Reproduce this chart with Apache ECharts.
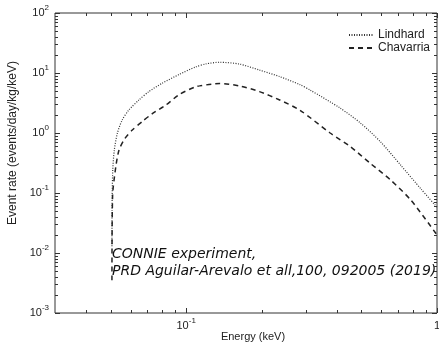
<!DOCTYPE html>
<html>
<head>
<meta charset="utf-8">
<script src="https://cdn.jsdelivr.net/npm/echarts@6.0.0/dist/echarts.min.js"></script>
<style>
  html, body { margin: 0; padding: 0; background: #fff; }
  #chart { width: 439px; height: 344px; }
</style>
</head>
<body>
<div id="chart"></div>
<script>
// 能谱数据 (Energy keV, events/day/kg/keV)
const lindhard = [
  [0.0506, 0.013], [0.0507, 0.087], [0.0510, 0.25], [0.0517, 0.52],
  [0.0532, 1.0], [0.0556, 1.65], [0.0590, 2.4], [0.0648, 3.55],
  [0.0710, 4.9], [0.0800, 6.7], [0.0940, 9.5], [0.109, 12.6],
  [0.120, 14.2], [0.136, 15.1], [0.163, 14.1], [0.196, 11.2],
  [0.236, 8.7], [0.284, 6.4], [0.312, 5.2], [0.411, 2.6],
  [0.495, 1.47], [0.596, 0.71], [0.717, 0.29], [0.863, 0.117], [1.0, 0.058]
]
const chavarria = [
  [0.0506, 0.0035], [0.0509, 0.09], [0.0524, 0.27], [0.0540, 0.52],
  [0.0570, 0.81], [0.0610, 1.12], [0.0668, 1.55], [0.0733, 2.1],
  [0.0828, 2.9], [0.0940, 4.4], [0.109, 5.9], [0.113, 6.1],
  [0.136, 6.7], [0.163, 6.1], [0.196, 4.9], [0.236, 3.55],
  [0.284, 2.4], [0.375, 1.0], [0.452, 0.59], [0.543, 0.31],
  [0.653, 0.165], [0.787, 0.076], [1.0, 0.02]
]
const seriesNames = ['Lindhard', 'Chavarria']

// 刻度
const xMajor = [0.1, 1]
const xMinor = [0.04, 0.05, 0.06, 0.07, 0.08, 0.09, 0.2, 0.3, 0.4, 0.5, 0.6, 0.7, 0.8, 0.9]
const yMajor = [0.001, 0.01, 0.1, 1, 10, 100]
const yMantissa = [2, 3, 4, 5, 6, 7, 8, 9]
const yDecades = [0.001, 0.01, 0.1, 1, 10]

const yMinor = []
yDecades.forEach(d => yMantissa.forEach(m => yMinor.push(+(m * d).toPrecision(3))))

const xTickData = xMajor.map(v => [v, 1, 1]).concat(xMinor.map(v => [v, 1, 0]))
const yTickData = yMajor.map(v => [0.1, v, 1]).concat(yMinor.map(v => [0.1, v, 0]))

const isPow10 = v => Math.abs(Math.log10(v) - Math.round(Math.log10(v))) < 1e-6
// x轴: 1 显示为 "1"; y轴: 全部写成 10^n
const xLabel = v => {
  if (!isPow10(v)) return ''
  const e = Math.round(Math.log10(v))
  return e === 0 ? '1' : '10{sup|' + e + '}'
}
const yLabel = v => (isPow10(v) ? '10{sup|' + Math.round(Math.log10(v)) + '}' : '')

const tickColor = '#333'
const line = (x1, y1, x2, y2) => ({
  type: 'line',
  shape: { x1, y1, x2, y2 },
  style: { stroke: tickColor, lineWidth: 1 }
})

const myChart = echarts.init(document.getElementById('chart'))

const labelRich = {
  sup: { fontSize: 8, verticalAlign: 'top', fontFamily: 'Liberation Sans', color: '#222' }
}

const option = {
  animation: false,
  textStyle: { fontFamily: 'Liberation Sans' },
  grid: {
    left: 55, right: 2, top: 13, bottom: 31,
    show: true, borderColor: '#333', borderWidth: 1,
    outerBoundsMode: 'none'
  },
  legend: {
    data: seriesNames,
    orient: 'vertical',
    left: 343,
    top: 24,
    itemWidth: 24,
    itemHeight: 14,
    itemGap: 1,
    itemStyle: { opacity: 0 },
    textStyle: { fontSize: 12, color: '#222', fontFamily: 'Liberation Sans' }
  },
  xAxis: {
    type: 'log',
    logBase: 10,
    min: 0.03,
    max: 1,
    axisLine: { show: false },
    axisTick: { show: false },
    splitLine: { show: false },
    axisLabel: {
      formatter: xLabel,
      fontSize: 11,
      color: '#222',
      lineHeight: 18,
      margin: 4,
      rich: labelRich
    }
  },
  yAxis: {
    type: 'log',
    logBase: 10,
    min: 0.001,
    max: 100,
    axisLine: { show: false },
    axisTick: { show: false },
    splitLine: { show: false },
    axisLabel: {
      formatter: yLabel,
      fontSize: 11,
      color: '#222',
      lineHeight: 18,
      margin: 6,
      rich: labelRich
    }
  },
  graphic: [
    {
      type: 'text',
      x: 253, y: 337,
      style: {
        text: 'Energy (keV)', fill: '#222',
        font: '11px "Liberation Sans"', align: 'center', verticalAlign: 'middle'
      }
    },
    {
      type: 'text',
      x: 13, y: 143,
      rotation: Math.PI / 2,
      style: {
        text: 'Event rate (events/day/kg/keV)', fill: '#222',
        font: '12px "Liberation Sans"', align: 'center', verticalAlign: 'middle'
      }
    },
    {
      type: 'text',
      x: 112, y: 263,
      style: {
        text: 'CONNIE experiment,\nPRD Aguilar-Arevalo et all,100, 092005 (2019)',
        fill: '#111',
        font: 'italic 14px "DejaVu Sans"',
        lineHeight: 16.5,
        align: 'left', verticalAlign: 'middle'
      }
    }
  ],
  series: [
    {
      name: 'Lindhard',
      type: 'line',
      data: lindhard,
      showSymbol: false,
      symbol: 'none',
      smooth: 0.25,
      lineStyle: { color: '#333', width: 1.2, type: [1, 1.5] },
      itemStyle: { color: '#333' }
    },
    {
      name: 'Chavarria',
      type: 'line',
      data: chavarria,
      showSymbol: false,
      symbol: 'none',
      smooth: 0.25,
      lineStyle: { color: '#222', width: 1.5, type: [5, 4] },
      itemStyle: { color: '#222' }
    },
    {
      // x方向刻度（上下两边，向内）
      type: 'custom',
      silent: true,
      data: xTickData,
      encode: { x: 0, y: 1 },
      renderItem(params, api) {
        const cs = params.coordSys
        const len = api.value(2) ? 5 : 3
        const x = Math.round(api.coord([api.value(0), 1])[0]) + 0.5
        const yb = cs.y + cs.height
        const yt = cs.y
        return { type: 'group', children: [line(x, yb, x, yb - len), line(x, yt, x, yt + len)] }
      }
    },
    {
      // y方向刻度（左右两边，向内）
      type: 'custom',
      silent: true,
      data: yTickData,
      encode: { x: 0, y: 1 },
      renderItem(params, api) {
        const cs = params.coordSys
        const len = api.value(2) ? 5 : 3
        const y = Math.round(api.coord([0.1, api.value(1)])[1]) + 0.5
        const xl = cs.x
        const xr = cs.x + cs.width
        return { type: 'group', children: [line(xl, y, xl + len, y), line(xr, y, xr - len, y)] }
      }
    }
  ]
}

myChart.setOption(option)
window.addEventListener('resize', () => {
  myChart.resize()
})
</script>
</body>
</html>
